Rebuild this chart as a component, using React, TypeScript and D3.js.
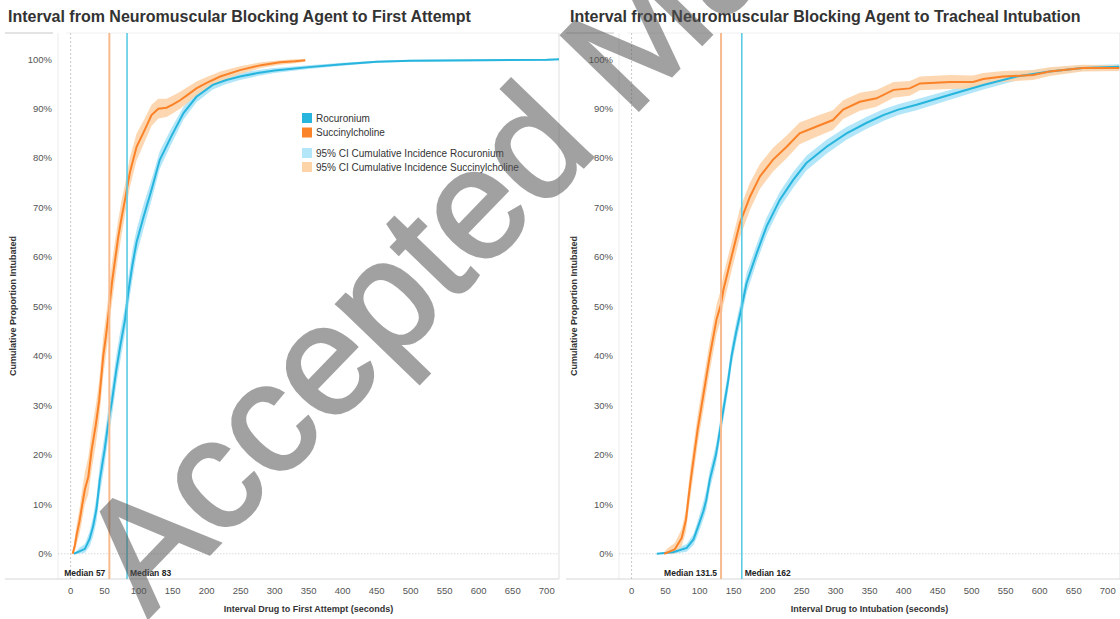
import React from "react";
import * as d3 from "d3";

const W = 1120;
const H = 619;
const FONT = "'Liberation Sans', Arial, Helvetica, sans-serif";

// rows: [seconds, estimate %, lower 95% CI %, upper 95% CI %]
const rocFirstAttempt: number[][] = [
  [5, 0, 0, 0], [13, 0.5, 0, 1.2], [21, 1, 0.2, 2], [28, 3, 1.5, 4.5], [33, 5.5, 3.5, 7.5],
  [38, 9, 6.5, 11.5], [43, 15, 12, 18], [50, 21, 18, 24], [55, 26, 23, 29], [61, 31, 28, 34],
  [67, 37, 34, 40], [73, 42, 39, 45], [80, 47.3, 44.5, 50], [85, 53, 50, 56], [91, 58.5, 55.5, 61.5],
  [97, 63, 60.5, 65.5], [107, 68, 65.5, 70.5], [119, 73.6, 71.5, 75.7], [131, 79.6, 77.8, 81.4],
  [148, 84.4, 82.8, 86], [166, 89.1, 87.8, 90.4], [185, 92.4, 91.3, 93.5], [209, 94.8, 93.9, 95.7],
  [229, 95.8, 95, 96.6], [249, 96.5, 95.8, 97.2], [275, 97.2, 96.6, 97.8], [300, 97.7, 97.2, 98.2],
  [350, 98.4, 98, 98.8], [400, 99, 98.7, 99.3], [450, 99.5, 99.3, 99.7], [500, 99.7, 99.5, 99.9],
  [600, 99.8, 99.6, 100], [700, 99.9, 99.7, 100], [718, 100, 99.8, 100],
];

const succFirstAttempt: number[][] = [
  [3, 0, 0, 0], [6, 1.5, 0.3, 3], [9, 3.9, 2, 6], [13, 6.5, 4, 9], [16, 9, 6, 12], [21, 13, 10, 16.5],
  [26, 15.5, 12, 19.5], [31, 21, 17, 25], [37, 26, 22, 30], [42, 31, 27, 35], [48, 40, 36, 44],
  [52, 44, 40, 48], [57, 50, 46, 54], [61, 55, 51, 59], [65, 59, 55, 63], [70, 64, 60, 67.5],
  [75, 68, 64.5, 71.5], [80, 71.6, 68.5, 74.7], [87, 77, 74, 80], [97, 82.3, 79.5, 85],
  [109, 85.7, 83.3, 88], [119, 88.7, 86.5, 90.8], [129, 90, 88, 92], [141, 90.2, 88.3, 92],
  [150, 90.8, 89, 92.6], [161, 91.7, 90, 93.4], [172, 92.8, 91.2, 94.4], [185, 94.1, 92.7, 95.5],
  [200, 95.2, 94, 96.4], [220, 96.5, 95.4, 97.5], [249, 97.8, 97, 98.6], [280, 98.8, 98.2, 99.4],
  [308, 99.4, 98.9, 99.8], [330, 99.6, 99.2, 100], [345, 99.8, 99.5, 100],
];

const rocIntubation: number[][] = [
  [37, 0, 0, 0], [61, 0.3, 0, 0.8], [81, 1.2, 0.4, 2], [91, 2.9, 1.8, 4], [98, 5.6, 4, 7],
  [105.5, 8.6, 7, 10.5], [110, 11, 9, 13], [115, 15, 13, 17], [124, 20, 18, 22], [130, 25, 23, 27],
  [136, 30, 28, 32], [142, 35, 33, 37], [147, 40, 38, 42], [154, 45, 43, 47], [162, 50, 48, 52],
  [169, 54.7, 52.7, 56.7], [184, 60.8, 59, 62.6], [198.5, 66.2, 64.5, 68], [218, 71.6, 70, 73.2],
  [237.6, 75.6, 74, 77.2], [257, 79, 77.5, 80.5], [286.6, 82.3, 80.9, 83.7], [316, 85, 83.7, 86.3],
  [345, 87.1, 85.9, 88.3], [370, 88.7, 87.5, 89.9], [392, 89.8, 88.7, 90.9], [419, 90.8, 89.7, 91.9],
  [468, 92.8, 91.8, 93.8], [517, 94.8, 93.9, 95.7], [566, 96.5, 95.7, 97.3], [614.5, 97.5, 96.8, 98.2],
  [663, 98.2, 97.6, 98.8], [717, 98.5, 98, 99],
];

const succIntubation: number[][] = [
  [48, 0, 0, 0.3], [52, 0.2, 0, 1], [63.5, 0.9, 0, 2.2], [73.7, 3.2, 1.5, 5], [80, 6.9, 4.5, 9],
  [83.4, 11, 8.5, 13.5], [87, 15, 12, 18], [92, 20, 17, 23], [97, 25, 22, 28], [103, 30, 27, 33],
  [109, 35, 32, 38], [115, 40, 37, 43], [125, 47.5, 44.5, 50.5], [131.5, 50.5, 47.5, 53.5],
  [135, 53.4, 50.4, 56.4], [147, 60.1, 57.2, 63], [159.3, 66.9, 64, 69.8], [174, 72.2, 69.5, 75],
  [188.7, 76.3, 73.8, 78.8], [208, 79.7, 77.3, 82.1], [228, 82.3, 80, 84.6], [247, 85, 82.8, 87.2],
  [272, 86.4, 84.3, 88.5], [296, 87.7, 85.7, 89.7], [311, 89.8, 87.9, 91.7], [335.5, 91.4, 89.6, 93.2],
  [360, 92.1, 90.4, 93.8], [385, 93.8, 92.2, 95.4], [409, 94.1, 92.6, 95.6], [424, 95.1, 93.7, 96.5],
  [468, 95.4, 94, 96.8], [502, 95.4, 94.1, 96.7], [517, 96, 94.8, 97.2], [546, 96.5, 95.4, 97.6],
  [590, 96.8, 95.8, 97.8], [614.5, 97.5, 96.6, 98.4], [663, 98.2, 97.5, 98.9], [717, 98.2, 97.6, 98.8],
];

const xTicks = [0, 50, 100, 150, 200, 250, 300, 350, 400, 450, 500, 550, 600, 650, 700];
const yTicks = [0, 10, 20, 30, 40, 50, 60, 70, 80, 90, 100];
const xDomain = [-18.5, 718];
const yDomain = [-5.1, 105.3];

const medianFirst = { succ: 57, roc: 83 };
const medianIntub = { succ: 131.5, roc: 162 };

const legendLabels = [
  "Rocuronium",
  "Succinylcholine",
  "95% CI Cumulative Incidence Rocuronium",
  "95% CI Cumulative Incidence Succinylcholine",
];

const C = {
  roc: "#27b5de",
  succ: "#fa8228",
  rocCI: "#b2e6f8",
  succCI: "#fdd3a8",
  rocMed: "#5ccbe4",
  succMed: "#f7bb8f",
};

type PanelProps = {
  left: number;
  right: number;
  title: string;
  titleX: number;
  xTitle: string;
  roc: number[][];
  succ: number[][];
  med: { succ: number; roc: number };
  legend?: boolean;
  id: string;
};

function Panel({ left, right, title, titleX, xTitle, roc, succ, med, legend, id }: PanelProps) {
  const top = 33;
  const bottom = 579;
  const x = d3.scaleLinear().domain(xDomain).range([left, right]);
  const y = d3.scaleLinear().domain(yDomain).range([bottom, top]);
  const area = d3
    .area<number[]>()
    .x((d) => x(d[0]))
    .y0((d) => y(d[2]))
    .y1((d) => y(d[3]));
  const line = d3
    .line<number[]>()
    .x((d) => x(d[0]))
    .y((d) => y(d[1]));
  const axisLeft = left - 53;
  return (
    <g>
      <defs>
        <clipPath id={id}>
          <rect x={left} y={top} width={right - left} height={bottom - top} />
        </clipPath>
      </defs>
      <text x={titleX} y={22} fontSize={16} fontWeight="bold" fill="#333" fontFamily={FONT}>
        {title}
      </text>
      {/* frame */}
      <line x1={axisLeft} x2={left - 5} y1={top} y2={top} stroke="#c8c8c8" strokeWidth={1} />
      <line x1={left + 8} x2={right} y1={top} y2={top} stroke="#f0f0f0" strokeWidth={1} />
      <line x1={left} x2={left} y1={top} y2={bottom} stroke="#ececec" strokeWidth={1} />
      <line x1={right} x2={right} y1={top} y2={bottom} stroke="#e0e0e0" strokeWidth={1} />
      <line x1={axisLeft} x2={right} y1={bottom} y2={bottom} stroke="#d6d6d6" strokeWidth={1} />
      {/* zero lines */}
      <line x1={left} x2={right} y1={y(0)} y2={y(0)} stroke="#d8d8d8" strokeWidth={1} strokeDasharray="1.5,1.5" />
      <line x1={x(0)} x2={x(0)} y1={top} y2={bottom} stroke="#c8c8c8" strokeWidth={1} strokeDasharray="2,2" />
      {/* y ticks */}
      {yTicks.map((t) => (
        <text
          key={t}
          x={left - 6}
          y={y(t)}
          dy="0.35em"
          textAnchor="end"
          fontSize={9.5}
          fill="#555"
          fontFamily={FONT}
        >
          {t + "%"}
        </text>
      ))}
      {/* x ticks */}
      {xTicks.map((t) => (
        <text key={t} x={x(t)} y={593.5} textAnchor="middle" fontSize={9.5} fill="#555" fontFamily={FONT}>
          {t}
        </text>
      ))}
      <text
        x={(left + right) / 2}
        y={612}
        textAnchor="middle"
        fontSize={9}
        fontWeight="bold"
        fill="#333"
        fontFamily={FONT}
      >
        {xTitle}
      </text>
      <text
        transform={`translate(${axisLeft + 11},${(top + bottom) / 2}) rotate(-90)`}
        textAnchor="middle"
        fontSize={9}
        fontWeight="bold"
        fill="#333"
        fontFamily={FONT}
      >
        Cumulative Proportion Intubated
      </text>
      <g clipPath={`url(#${id})`}>
        <path d={area(roc) || ""} fill={C.rocCI} />
        <path d={area(succ) || ""} fill={C.succCI} opacity={0.9} />
        <path d={line(roc) || ""} fill="none" stroke={C.roc} strokeWidth={2} />
        <path d={line(succ) || ""} fill="none" stroke={C.succ} strokeWidth={2} />
        <line x1={x(med.succ)} x2={x(med.succ)} y1={top} y2={bottom} stroke={C.succMed} strokeWidth={2} />
        <line x1={x(med.roc)} x2={x(med.roc)} y1={top} y2={bottom} stroke={C.rocMed} strokeWidth={1.6} />
      </g>
      <text
        x={x(med.succ) - 4}
        y={576}
        textAnchor="end"
        fontSize={8.5}
        fontWeight="bold"
        fill="#222"
        fontFamily={FONT}
      >
        {"Median " + med.succ}
      </text>
      <text x={x(med.roc) + 3} y={576} fontSize={8.5} fontWeight="bold" fill="#222" fontFamily={FONT}>
        {"Median " + med.roc}
      </text>
      {legend && (
        <g fontFamily={FONT} fontSize={10} fill="#333">
          {legendLabels.map((l, i) => {
            const yy = [118, 132.5, 153, 167][i];
            const col = [C.roc, C.succ, C.rocCI, C.succCI][i];
            return (
              <g key={l}>
                <rect x={302} y={yy - 5} width={10} height={10} fill={col} />
                <text x={316} y={yy} dy="0.35em">
                  {l}
                </text>
              </g>
            );
          })}
        </g>
      )}
    </g>
  );
}

export default function App() {
  return (
    <svg
      width={W}
      height={H}
      style={{ position: "absolute", left: 0, top: 0, background: "#fff" }}
      xmlns="http://www.w3.org/2000/svg"
    >
      <rect x={0} y={0} width={W} height={H} fill="#fff" />
      <Panel
        id="clipA"
        left={58}
        right={559}
        title="Interval from Neuromuscular Blocking Agent to First Attempt"
        titleX={8}
        xTitle="Interval Drug to First Attempt (seconds)"
        roc={rocFirstAttempt}
        succ={succFirstAttempt}
        med={medianFirst}
        legend
      />
      <Panel
        id="clipB"
        left={619}
        right={1120}
        title="Interval from Neuromuscular Blocking Agent to Tracheal Intubation"
        titleX={570}
        xTitle="Interval Drug to Intubation (seconds)"
        roc={rocIntubation}
        succ={succIntubation}
        med={medianIntub}
      />
      <text
        transform="translate(148,618) rotate(-46)"
        fontSize={156}
        fontFamily={FONT}
        fill="#555"
        stroke="#555"
        strokeWidth={3}
        opacity={0.55}
      >
        Accepted Manuscript
      </text>
    </svg>
  );
}
